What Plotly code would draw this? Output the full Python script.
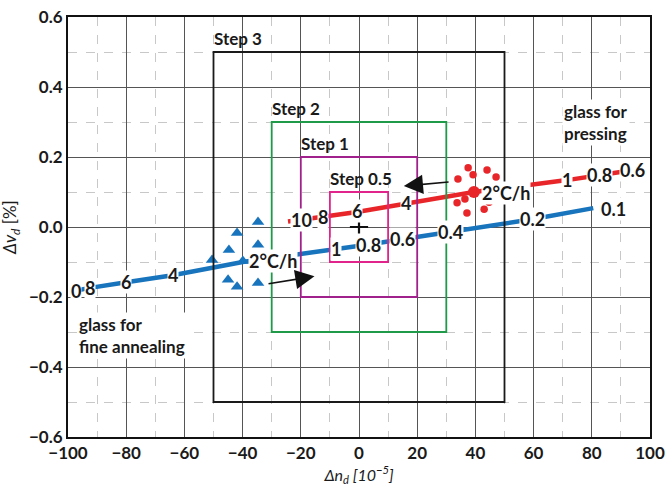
import plotly.graph_objects as go

# ---- data ----
box_names = ["Step 3", "Step 2", "Step 1", "Step 0.5"]
box_x0 = [-50, -30, -20, -10]
box_x1 = [50, 30, 20, 10]
box_y0 = [-0.5, -0.3, -0.2, -0.1]
box_y1 = [0.5, 0.3, 0.2, 0.1]
box_colors = ["#1a1a1a", "#1f9a48", "#a0208c", "#e0248c"]

blue_line_x = [-98, -92.4, -80, -64, -40, -7.9, 3.4, 14.8, 31.3, 59.5, 80.5]
blue_line_y = [-0.183, -0.174, -0.158, -0.138, -0.1, -0.064, -0.05, -0.035, -0.014, 0.022, 0.054]
blue_lab_text = ["0", "8", "6", "4", "2°C/h", "1", "0.8", "0.6", "0.4", "0.2", "0.1"]
blue_lab_x = [-97.4, -92.4, -80, -64, -29.4, -7.9, 3.4, 14.8, 31.3, 59.5, 87.5]
blue_lab_y = [-0.183, -0.174, -0.158, -0.138, -0.097, -0.064, -0.05, -0.035, -0.014, 0.022, 0.052]

red_line_x = [-24.4, -19.6, -12.4, -0.7, 16.2, 39.5, 71.5, 82.8, 90.4]
red_line_y = [0.016, 0.02, 0.029, 0.043, 0.068, 0.1, 0.134, 0.149, 0.158]
red_lab_text = ["10", "8", "6", "4", "2°C/h", "1", "0.8", "0.6"]
red_lab_x = [-19.6, -12.4, -0.7, 16.2, 50.6, 71.5, 82.8, 94.0]
red_lab_y = [0.02, 0.029, 0.045, 0.068, 0.097, 0.134, 0.149, 0.162]

red_dots_x = [34.0, 37.5, 39.2, 44.0, 47.1, 33.7, 36.4, 37.1, 43.0, 44.7]
red_dots_y = [0.137, 0.169, 0.149, 0.163, 0.143, 0.069, 0.08, 0.04, 0.051, 0.071]
red_center = (39.5, 0.1)

blue_tri_x = [-34.7, -41.9, -44.7, -34.7, -50.5, -39.9, -45.0, -41.9, -34.7]
blue_tri_y = [0.014, -0.017, -0.066, -0.051, -0.094, -0.097, -0.151, -0.171, -0.16]

arrow_tail = [(31.3, 0.129), (-31.6, -0.163)]
arrow_head = [(15.4, 0.117), (-15.3, -0.141)]

x_ticks = [-100, -80, -60, -40, -20, 0, 20, 40, 60, 80, 100]
y_ticks = [-0.6, -0.4, -0.2, 0.0, 0.2, 0.4, 0.6]

FONT = "Lato"
BLUE = "#1874bd"
RED = "#e8262a"
TXT = "#1a1a1a"

fig = go.Figure()

# boxes
for name, x0, x1, y0, y1, c in zip(box_names, box_x0, box_x1, box_y0, box_y1, box_colors):
    fig.add_shape(type="rect", x0=x0, x1=x1, y0=y0, y1=y1,
                  line=dict(color=c, width=1.8), layer="above")
    fig.add_annotation(x=x0, y=y1, text=name, showarrow=False, xanchor="left",
                       yanchor="bottom", xshift=-2, yshift=1,
                       font=dict(family=FONT, size=17, color=TXT, weight="bold"))

# lines
fig.add_trace(go.Scatter(x=blue_line_x, y=blue_line_y, mode="lines",
                         line=dict(color=BLUE, width=4.5), hoverinfo="skip"))
fig.add_trace(go.Scatter(x=red_line_x, y=red_line_y, mode="lines",
                         line=dict(color=RED, width=4.5), hoverinfo="skip"))

# markers
fig.add_trace(go.Scatter(x=blue_tri_x, y=blue_tri_y, mode="markers",
                         marker=dict(symbol="triangle-up", size=11, color=BLUE)))
fig.add_trace(go.Scatter(x=red_dots_x, y=red_dots_y, mode="markers",
                         marker=dict(symbol="circle", size=7.5, color=RED)))
fig.add_trace(go.Scatter(x=[red_center[0]], y=[red_center[1]], mode="markers",
                         marker=dict(symbol="circle", size=12, color=RED)))
fig.add_trace(go.Scatter(x=[0], y=[0], mode="markers",
                         marker=dict(symbol="cross-thin", size=13, color="#111",
                                     line=dict(width=2.2, color="#111"))))

# line labels
for t, x, y in zip(blue_lab_text, blue_lab_x, blue_lab_y):
    fig.add_annotation(x=x, y=y, text=t, showarrow=False, bgcolor="white",
                       borderpad=0,
                       font=dict(family=FONT, size=18, color=TXT, weight="bold"))
for t, x, y in zip(red_lab_text, red_lab_x, red_lab_y):
    fig.add_annotation(x=x, y=y, text=t, showarrow=False, bgcolor="white",
                       borderpad=0,
                       font=dict(family=FONT, size=18, color=TXT, weight="bold"))

# arrows
for (tx, ty), (hx, hy) in zip(arrow_tail, arrow_head):
    fig.add_annotation(x=hx, y=hy, ax=tx, ay=ty, axref="x", ayref="y",
                       xref="x", yref="y", text="", showarrow=True,
                       arrowhead=2, arrowsize=2.4, arrowwidth=1.6, arrowcolor="#111")

# side texts
fig.add_annotation(x=93, y=0.3, text="glass for<br>pressing", showarrow=False,
                   xanchor="right", align="left", bgcolor="white",
                   font=dict(family=FONT, size=17, color=TXT, weight="bold"))
fig.add_annotation(x=-97, y=-0.31, text="glass for<br>fine annealing", showarrow=False,
                   xanchor="left", align="left", bgcolor="white",
                   font=dict(family=FONT, size=17, color=TXT, weight="bold"))

# y-axis title as annotation (positioned like the reference)
fig.add_annotation(xref="paper", yref="paper", x=-0.098, y=0.5, textangle=-90,
                   xanchor="center", yanchor="middle",
                   text="<i>Δv<sub>d</sub></i> [%]", showarrow=False,
                   font=dict(family=FONT, size=17, color=TXT))

fig.update_layout(
    width=670, height=489,
    margin=dict(l=68, r=20, t=17, b=52, autoexpand=False),
    plot_bgcolor="white", paper_bgcolor="white",
    showlegend=False,
    font=dict(family=FONT, color=TXT),
)
fig.update_xaxes(range=[-100, 100], tickvals=x_ticks, automargin=False,
                 showgrid=True, gridcolor="#555", gridwidth=1,
                 minor=dict(dtick=10, showgrid=True, gridcolor="#c8c8c8", griddash="dash", gridwidth=1),
                 showline=True, linecolor="#111", linewidth=2, mirror=True, zeroline=False,
                 ticks="", tickfont=dict(family=FONT, size=17, weight="bold", color=TXT),
                 title=dict(text="<i>Δn<sub>d</sub> [10<sup>−5</sup>]</i>", standoff=4,
                            font=dict(family=FONT, size=16, color=TXT)))
fig.update_yaxes(range=[-0.6, 0.6], tickvals=y_ticks, tickformat=".1f", automargin=False,
                 showgrid=True, gridcolor="#555", gridwidth=1,
                 minor=dict(dtick=0.1, showgrid=True, gridcolor="#c8c8c8", griddash="dash", gridwidth=1),
                 showline=True, linecolor="#111", linewidth=2, mirror=True, zeroline=False,
                 ticks="", tickfont=dict(family=FONT, size=17, weight="bold", color=TXT))

fig.write_html("out.html", post_script="document.body.style.margin='0';",
               config={"displayModeBar": False})
